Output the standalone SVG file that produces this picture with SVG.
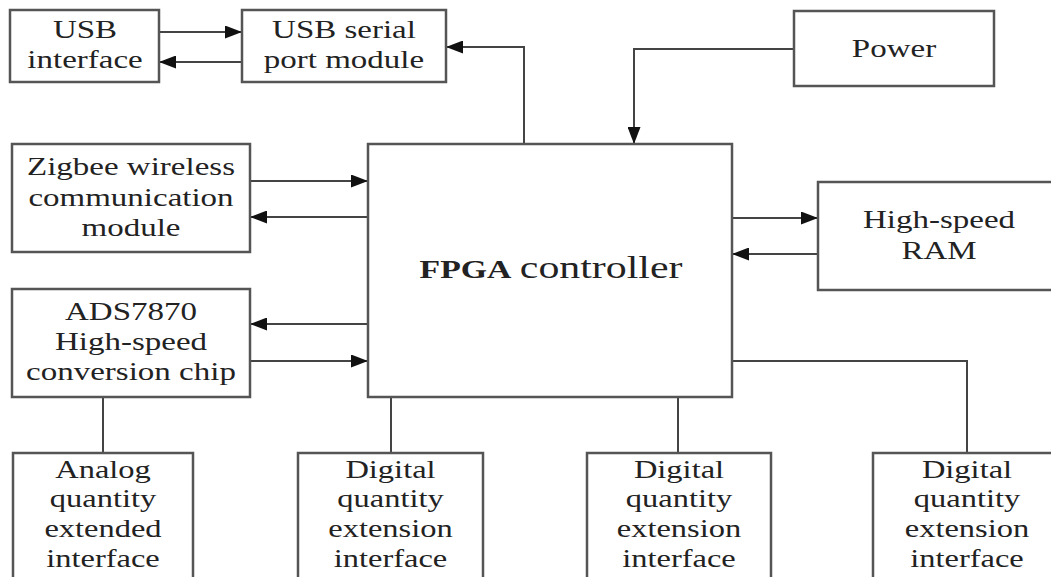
<svg xmlns="http://www.w3.org/2000/svg" width="1051" height="577" viewBox="0 0 1051 577">
<style>
.box{fill:#fff;stroke:#555;stroke-width:2.5}
.ln{fill:none;stroke:#444;stroke-width:2}
.ar{marker-end:url(#ah)}
text{font-family:"Liberation Serif","Times New Roman",serif;font-size:25px;fill:#222;text-anchor:middle}
.b{font-weight:bold}
.big{font-size:31px}
</style>
<defs>
<marker id="ah" markerUnits="userSpaceOnUse" viewBox="0 0 17 13" refX="17" refY="6.5" markerWidth="17" markerHeight="13" orient="auto">
<path d="M0,0 L17,6.5 L0,13 z" fill="#111"/>
</marker>
</defs>
<rect width="1051" height="577" fill="#fff"/>
<g id="connectors">
<line class="ln ar" x1="159" y1="32" x2="242" y2="32"/>
<line class="ln ar" x1="242" y1="62" x2="159" y2="62"/>
<polyline class="ln ar" points="524,144 524,47 446,47"/>
<polyline class="ln ar" points="794,49 634,49 634,144"/>
<line class="ln ar" x1="250" y1="181" x2="368" y2="181"/>
<line class="ln ar" x1="368" y1="217" x2="250" y2="217"/>
<line class="ln ar" x1="368" y1="324" x2="250" y2="324"/>
<line class="ln ar" x1="250" y1="361" x2="368" y2="361"/>
<line class="ln ar" x1="732" y1="218" x2="818" y2="218"/>
<line class="ln ar" x1="818" y1="254" x2="732" y2="254"/>
<line class="ln" x1="103" y1="397" x2="103" y2="453"/>
<line class="ln" x1="391" y1="397" x2="391" y2="453"/>
<line class="ln" x1="678" y1="397" x2="678" y2="453"/>
<polyline class="ln" points="732,361 967,361 967,453"/>
</g>
<g id="usb-interface">
<rect class="box" x="10" y="10" width="149" height="72"/>
<g transform="translate(85,0) scale(1.32,1)"><text x="0" y="38">USB</text><text x="0" y="68">interface</text></g>
</g>
<g id="usb-serial">
<rect class="box" x="242" y="10" width="204" height="72"/>
<g transform="translate(344,0) scale(1.32,1)"><text x="0" y="38">USB serial</text><text x="0" y="68">port module</text></g>
</g>
<g id="power">
<rect class="box" x="794" y="11" width="200" height="75"/>
<g transform="translate(894,0) scale(1.32,1)"><text x="0" y="57">Power</text></g>
</g>
<g id="zigbee">
<rect class="box" x="12" y="144" width="238" height="108"/>
<g transform="translate(131,0) scale(1.32,1)"><text x="0" y="175">Zigbee wireless</text><text x="0" y="206">communication</text><text x="0" y="236">module</text></g>
</g>
<g id="fpga">
<rect class="box" x="368" y="144" width="364" height="253"/>
<g transform="translate(551,0) scale(1.35,1)"><text x="0" y="278"><tspan class="b">FPGA</tspan> <tspan class="big">controller</tspan></text></g>
</g>
<g id="ram">
<rect class="box" x="818" y="182" width="245" height="108"/>
<g transform="translate(939,0) scale(1.32,1)"><text x="0" y="228">High-speed</text><text x="0" y="259">RAM</text></g>
</g>
<g id="ads7870">
<rect class="box" x="12" y="289" width="238" height="108"/>
<g transform="translate(131,0) scale(1.32,1)"><text x="0" y="320">ADS7870</text><text x="0" y="350">High-speed</text><text x="0" y="380">conversion chip</text></g>
</g>
<g id="analog">
<rect class="box" x="13" y="453" width="180" height="140"/>
<g transform="translate(103,0) scale(1.3,1.03)"><text x="0" y="464">Analog</text><text x="0" y="492.5">quantity</text><text x="0" y="521.5">extended</text><text x="0" y="550.5">interface</text></g>
</g>
<g id="digital1">
<rect class="box" x="298" y="453" width="185" height="140"/>
<g transform="translate(390.5,0) scale(1.3,1.03)"><text x="0" y="464">Digital</text><text x="0" y="492.5">quantity</text><text x="0" y="521.5">extension</text><text x="0" y="550.5">interface</text></g>
</g>
<g id="digital2">
<rect class="box" x="587" y="453" width="184" height="140"/>
<g transform="translate(679,0) scale(1.3,1.03)"><text x="0" y="464">Digital</text><text x="0" y="492.5">quantity</text><text x="0" y="521.5">extension</text><text x="0" y="550.5">interface</text></g>
</g>
<g id="digital3">
<rect class="box" x="873" y="453" width="188" height="140"/>
<g transform="translate(967,0) scale(1.3,1.03)"><text x="0" y="464">Digital</text><text x="0" y="492.5">quantity</text><text x="0" y="521.5">extension</text><text x="0" y="550.5">interface</text></g>
</g>
</svg>
